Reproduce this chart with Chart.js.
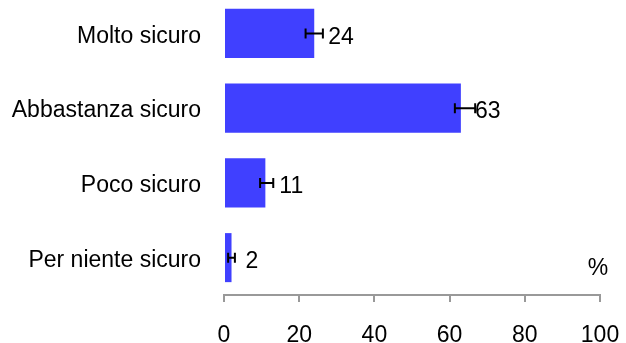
<!DOCTYPE html>
<html>
<head>
<meta charset="utf-8">
<script src="https://cdn.jsdelivr.net/npm/chart.js@4"></script>
<style>
  html, body { margin: 0; padding: 0; background: #fff; overflow: hidden; }
  #wrap { position: absolute; left: 0; top: -4px; width: 626px; height: 347px; }
</style>
</head>
<body>
<div id="wrap"><canvas id="chart"></canvas></div>
<script>
// Data
const categories = ['Molto sicuro', 'Abbastanza sicuro', 'Poco sicuro', 'Per niente sicuro'];
const values = [24, 63, 11, 2];
const errLow = [21.7, 61.4, 9.6, 1.1];
const errHigh = [26.3, 66.8, 13.1, 2.9];
const xTicks = [0, 20, 40, 60, 80, 100];

Chart.defaults.font.family = "'Liberation Sans', Arial, sans-serif";
Chart.defaults.font.size = 23;
Chart.defaults.color = '#000';

// error bars, value labels and the % sign
const extras = {
    id: 'extras',
    afterDatasetsDraw(chart) {
        const ctx = chart.ctx;
        const x = chart.scales.x, y = chart.scales.y;
        ctx.save();
        ctx.strokeStyle = '#000';
        ctx.lineWidth = 2;
        values.forEach((v, i) => {
            const cy = y.getPixelForValue(i);
            const x1 = x.getPixelForValue(errLow[i]);
            const x2 = x.getPixelForValue(errHigh[i]);
            ctx.beginPath();
            ctx.moveTo(x1, cy); ctx.lineTo(x2, cy);
            ctx.moveTo(x1, cy - 5); ctx.lineTo(x1, cy + 5);
            ctx.moveTo(x2, cy - 5); ctx.lineTo(x2, cy + 5);
            ctx.stroke();
        });
        ctx.fillStyle = '#000';
        ctx.font = "23px 'Liberation Sans', Arial, sans-serif";
        ctx.textAlign = 'left';
        ctx.textBaseline = 'middle';
        values.forEach((v, i) => {
            ctx.fillText(String(v), x.getPixelForValue(v) + 14, y.getPixelForValue(i) + 4);
        });
        ctx.textAlign = 'center';
        ctx.fillText('%', chart.chartArea.right - 2, chart.chartArea.bottom - 26);
        ctx.restore();
    }
};

const ctx = document.getElementById('chart').getContext('2d');
new Chart(ctx, {
    type: 'bar',
    data: {
        labels: categories,
        datasets: [{
            data: values,
            backgroundColor: '#4040ff',
            borderWidth: 0,
            barPercentage: 0.656,
            categoryPercentage: 1
        }]
    },
    options: {
        indexAxis: 'y',
        responsive: true,
        maintainAspectRatio: false,
        animation: false,
        layout: { padding: { top: 0, right: 26, left: 0, bottom: 0 } },
        plugins: {
            legend: { display: false },
            tooltip: { enabled: false }
        },
        scales: {
            x: {
                min: 0,
                max: 100,
                afterBuildTicks: (scale) => { scale.ticks = xTicks.map(v => ({ value: v })); },
                afterFit: (scale) => {
                    scale.height = 48;
                    scale.paddingLeft = 0;
                    scale.paddingRight = 0;
                },
                grid: { drawOnChartArea: false, drawTicks: true, tickLength: 7, color: '#999', lineWidth: 2 },
                border: { display: true, color: '#999', width: 2 },
                ticks: { padding: 20, color: '#000', maxRotation: 0 }
            },
            y: {
                afterFit: (scale) => {
                    scale.width = 224;
                    scale.paddingTop = 0;
                    scale.paddingBottom = 0;
                },
                grid: { display: false },
                border: { display: false },
                ticks: { padding: 15, color: '#000', labelOffset: 3 }
            }
        }
    },
    plugins: [extras]
});
</script>
</body>
</html>
